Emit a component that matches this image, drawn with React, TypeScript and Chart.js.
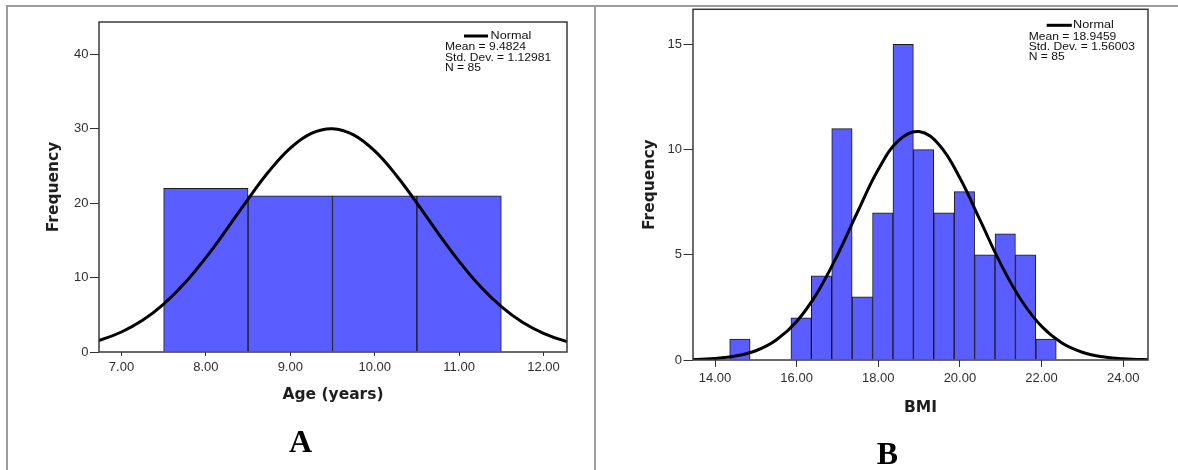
import React, { useEffect, useRef } from 'react';
import { Chart, registerables } from 'chart.js';

Chart.register(...registerables);

// ---------- Data: Age histogram (A) ----------
const ageBinCenters = [8, 9, 10, 11];
const ageCounts = [22, 21, 21, 21];
const ageCurveX = [6.5, 6.75, 7.0, 7.25, 7.5, 7.75, 8.0, 8.25, 8.5, 8.75, 9.0, 9.25, 9.5, 9.75, 10.0, 10.25, 10.5, 10.75, 11.0, 11.25, 11.5, 11.75, 12.0, 12.25, 12.5];
const ageCurveY = [0.92, 1.61, 2.69, 4.26, 6.44, 9.26, 12.69, 16.55, 20.56, 24.32, 27.4, 29.38, 30.01, 29.18, 27.02, 23.83, 20.01, 15.99, 12.18, 8.83, 6.09, 4.0, 2.51, 1.49, 0.85];
const ageXTicks = [7, 8, 9, 10, 11, 12];
const ageYTicks = [0, 10, 20, 30, 40];
const ageStats = ['Mean = 9.4824', 'Std. Dev. = 1.12981', 'N = 85'];

// ---------- Data: BMI histogram (B) ----------
const bmiBinCenters = [14.61, 16.11, 16.61, 17.11, 17.61, 18.11, 18.61, 19.11, 19.61, 20.11, 20.61, 21.11, 21.61, 22.11];
const bmiCounts = [1, 2, 4, 11, 3, 7, 15, 10, 7, 8, 5, 6, 5, 1];
const bmiCurveX = [13.0, 13.5, 14.0, 14.5, 15.0, 15.5, 16.0, 16.5, 17.0, 17.5, 18.0, 18.5, 19.0, 19.5, 20.0, 20.5, 21.0, 21.5, 22.0, 22.5, 23.0, 23.5, 24.0, 24.5, 25.0];
const bmiCurveY = [0.01, 0.02, 0.07, 0.19, 0.44, 0.95, 1.83, 3.18, 4.99, 7.07, 9.05, 10.44, 10.86, 10.21, 8.65, 6.62, 4.57, 2.85, 1.6, 0.81, 0.37, 0.15, 0.06, 0.02, 0.01];
const bmiXTicks = [14, 16, 18, 20, 22, 24];
const bmiYTicks = [0, 5, 10, 15];
const bmiStats = ['Mean = 18.9459', 'Std. Dev. = 1.56003', 'N = 85'];

const legendLabel = 'Normal';
const yTitle = 'Frequency';

const BAR_FILL = '#5a5dff';
const BAR_EDGE = '#1a1a1a';
const TICK_COLOR = '#2e2e2e';
const TITLE_COLOR = '#1e1e1e';

type LegendCfg = {
  lineX1: number; lineX2: number; lineY: number; labelX: number;
  statsX: number; statsY: number[]; stretch: number;
};

function drawStretched(ctx: CanvasRenderingContext2D, text: string, x: number, y: number, font: string, sx: number) {
  ctx.save();
  ctx.translate(x, y);
  ctx.scale(sx, 1);
  ctx.font = font;
  ctx.fillText(text, 0, 0);
  ctx.restore();
}

function makeFramePlugin(cfg: LegendCfg, stats: string[]) {
  return {
    id: 'spssFrame',
    afterDatasetsDraw(chart: any) {
      const { ctx, chartArea: a } = chart;
      ctx.save();
      ctx.strokeStyle = '#3a3a3a';
      ctx.lineWidth = 1.5;
      ctx.strokeRect(a.left, a.top, a.right - a.left, a.bottom - a.top);
      ctx.strokeStyle = '#000';
      ctx.lineWidth = 3;
      ctx.beginPath();
      ctx.moveTo(cfg.lineX1, cfg.lineY);
      ctx.lineTo(cfg.lineX2, cfg.lineY);
      ctx.stroke();
      ctx.fillStyle = '#111';
      ctx.textBaseline = 'middle';
      ctx.textAlign = 'left';
      drawStretched(ctx, legendLabel, cfg.labelX, cfg.lineY, '11px "Liberation Sans"', cfg.stretch);
      stats.forEach((t, i) => drawStretched(ctx, t, cfg.statsX, cfg.statsY[i], '10.5px "Liberation Sans"', cfg.stretch));
      ctx.restore();
    },
  };
}

type HistProps = {
  width: number; height: number;
  centers: number[]; counts: number[]; curveX: number[]; curveY: number[];
  xTicks: number[]; yTicks: number[]; xMin: number; xMax: number; yMax: number;
  xTitle: string; stats: string[]; legend: LegendCfg;
  yAxisWidth: number; xAxisHeight: number; padTop: number; padRight: number;
  xTickLen: number; yTickLen: number; xTitlePadBottom: number;
};

function Histogram(p: HistProps) {
  const ref = useRef<HTMLCanvasElement | null>(null);
  useEffect(() => {
    if (!ref.current) return;
    const chart = new Chart(ref.current, {
      type: 'bar',
      data: {
        datasets: [
          {
            type: 'line',
            label: legendLabel,
            data: p.curveX.map((x, i) => ({ x, y: p.curveY[i] })),
            borderColor: '#000',
            borderWidth: 3,
            pointRadius: 0,
            tension: 0.4,
            fill: false,
            order: 0,
          } as any,
          {
            type: 'bar',
            label: 'Frequency',
            data: p.centers.map((x, i) => ({ x, y: p.counts[i] })),
            backgroundColor: BAR_FILL,
            borderColor: BAR_EDGE,
            borderWidth: 1,
            barPercentage: 1,
            categoryPercentage: 1,
            order: 1,
          } as any,
        ],
      },
      options: {
        responsive: false,
        animation: false,
        devicePixelRatio: 1,
        layout: { padding: { left: 0, top: p.padTop, right: p.padRight, bottom: 0 } },
        plugins: { legend: { display: false }, tooltip: { enabled: false } },
        scales: {
          x: {
            type: 'linear',
            offset: false,
            min: p.xMin,
            max: p.xMax,
            afterBuildTicks: (s: any) => { s.ticks = p.xTicks.map((value) => ({ value })); },
            afterFit: (s: any) => { s.height = p.xAxisHeight; },
            grid: { display: true, offset: false, drawOnChartArea: false, drawTicks: true, tickLength: p.xTickLen, color: '#333', lineWidth: 1 },
            border: { display: false },
            ticks: {
              padding: 4,
              color: TICK_COLOR,
              font: { family: '"Liberation Sans", Arial, sans-serif', size: 13 },
              maxRotation: 0,
              autoSkip: false,
              callback: (v: any) => Number(v).toFixed(2),
            },
            title: {
              display: true,
              text: p.xTitle,
              color: TITLE_COLOR,
              font: { family: '"DejaVu Sans", sans-serif', weight: 'bold', size: 15.5 },
              padding: { top: 0, bottom: p.xTitlePadBottom },
            },
          },
          y: {
            type: 'linear',
            min: 0,
            max: p.yMax,
            afterBuildTicks: (s: any) => { s.ticks = p.yTicks.map((value) => ({ value })); },
            afterFit: (s: any) => { s.width = p.yAxisWidth; },
            grid: { display: true, offset: false, drawOnChartArea: false, drawTicks: true, tickLength: p.yTickLen, color: '#333', lineWidth: 1 },
            border: { display: false },
            ticks: {
              padding: 1.5,
              color: TICK_COLOR,
              font: { family: '"Liberation Sans", Arial, sans-serif', size: 13 },
              autoSkip: false,
              callback: (v: any) => String(v),
            },
            title: {
              display: true,
              text: yTitle,
              color: TITLE_COLOR,
              font: { family: '"DejaVu Sans", sans-serif', weight: 'bold', size: 15.5 },
              padding: { top: 44.5, bottom: 0 },
            },
          },
        },
      } as any,
      plugins: [makeFramePlugin(p.legend, p.stats)],
    });
    return () => chart.destroy();
  }, []);
  return <canvas ref={ref} width={p.width} height={p.height} style={{ width: p.width, height: p.height, display: 'block' }} />;
}

export default function App() {
  const line = (style: React.CSSProperties) => (
    <div style={{ position: 'absolute', background: '#9c9c9c', ...style }} />
  );
  const letter: React.CSSProperties = {
    position: 'absolute',
    fontFamily: '"Liberation Serif", "Times New Roman", serif',
    fontWeight: 'bold',
    fontSize: 32,
    lineHeight: '32px',
    textAlign: 'center',
    color: '#000',
  };
  return (
    <div style={{ position: 'absolute', left: 0, top: 0, width: 1178, height: 470, background: '#fff', overflow: 'hidden' }}>
      {line({ left: 6, top: 5, width: 1172, height: 2 })}
      {line({ left: 6, top: 5, width: 2, height: 465 })}
      {line({ left: 594, top: 5, width: 2, height: 465 })}
      <div style={{ position: 'absolute', left: 0, top: 0 }}>
        <Histogram
          width={594} height={470}
          centers={ageBinCenters} counts={ageCounts} curveX={ageCurveX} curveY={ageCurveY}
          xTicks={ageXTicks} yTicks={ageYTicks} xMin={6.734} xMax={12.278} yMax={44.35}
          xTitle="Age (years)" stats={ageStats}
          legend={{ lineX1: 464, lineX2: 488, lineY: 36, labelX: 490.5, statsX: 445, statsY: [47.5, 58, 68.5], stretch: 1.15 }}
          yAxisWidth={99} xAxisHeight={118} padTop={22} padRight={27}
          xTickLen={4} yTickLen={9} xTitlePadBottom={66}
        />
      </div>
      <div style={{ position: 'absolute', left: 596, top: 0 }}>
        <Histogram
          width={582} height={470}
          centers={bmiBinCenters} counts={bmiCounts} curveX={bmiCurveX} curveY={bmiCurveY}
          xTicks={bmiXTicks} yTicks={bmiYTicks} xMin={13.461} xMax={24.608} yMax={16.67}
          xTitle="BMI" stats={bmiStats}
          legend={{ lineX1: 450.7, lineX2: 475.8, lineY: 25.3, labelX: 477, statsX: 432.7, statsY: [37.5, 47.5, 57.5], stretch: 1.15 }}
          yAxisWidth={97} xAxisHeight={110} padTop={9} padRight={30}
          xTickLen={7} yTickLen={9.5} xTitlePadBottom={53}
        />
      </div>
      <div style={{ ...letter, left: 250, top: 425, width: 101 }}>A</div>
      <div style={{ ...letter, left: 837, top: 437, width: 101 }}>B</div>
    </div>
  );
}
